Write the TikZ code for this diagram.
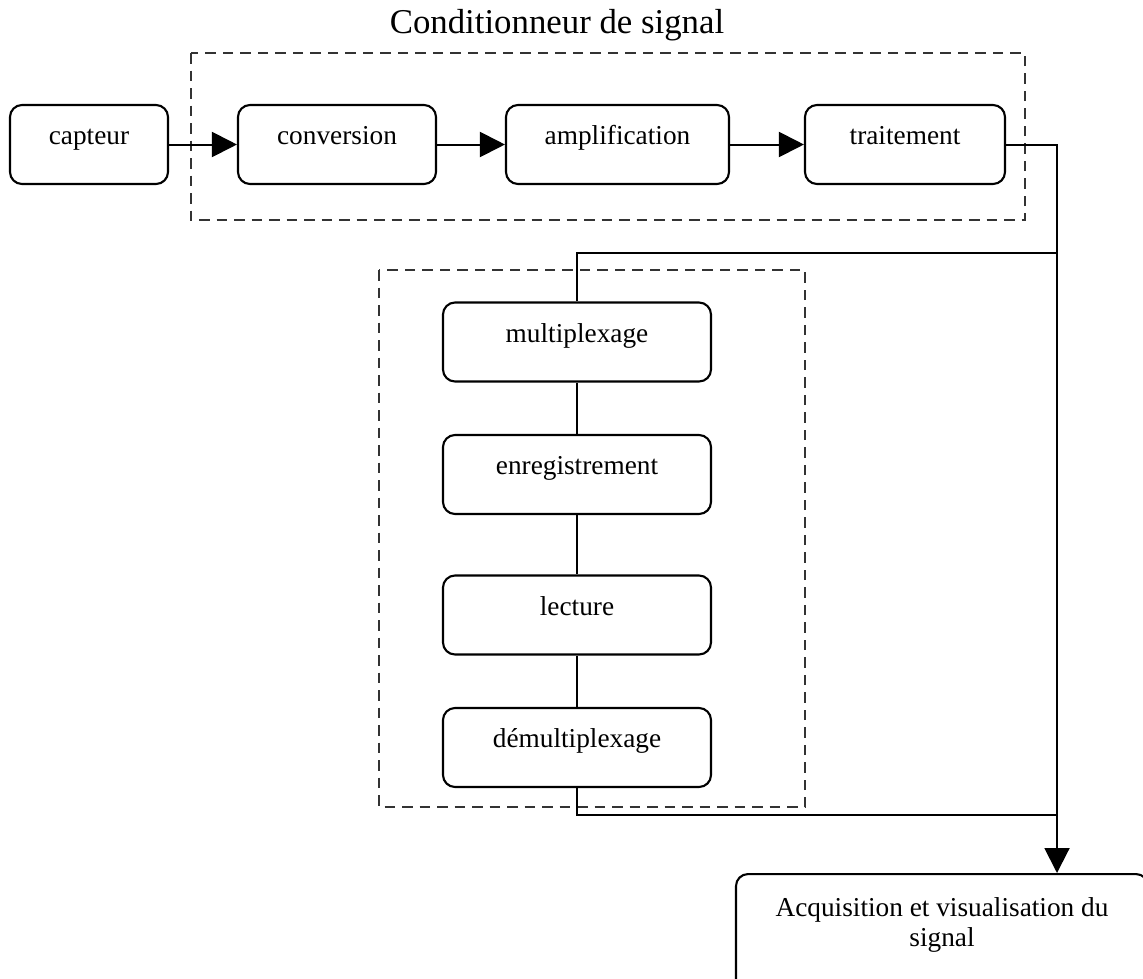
\documentclass[tikz,border=0pt]{standalone}
\usepackage{fontspec}
\setmainfont{Liberation Serif}
\usetikzlibrary{arrows.meta}
\begin{document}
\begin{tikzpicture}[x=1pt,y=-1pt,
  rbox/.style={draw, line width=2.1pt, rounded corners=12pt,
    font=\fontsize{27.3}{30}\selectfont},
  block/.style={rbox, minimum height=79pt, text height=8pt, text depth=8pt, inner sep=0pt},
  frame/.style={draw=black!80, line width=2.6pt, dash pattern=on 10.5pt off 7pt},
  link/.style={line width=2pt},
  tip/.style={-{Triangle[length=25pt,width=25pt]}}]
\useasboundingbox (0,0) rectangle (1143,978);
\clip (0,0) rectangle (1143,978);

% group frames
\draw[frame] (191,53) rectangle (1025,220);
\draw[frame] (379,270) rectangle (805,807);

\node[anchor=base, font=\fontsize{34.8}{38}\selectfont] (title) at (557,33) {Conditionneur de signal};

% signal conditioning chain
\node[block, minimum width=158pt] (capteur) at (89,144.5) {capteur};
\node[block, minimum width=198pt] (conv) at (337,144.5) {conversion};
\node[block, minimum width=223pt] (ampl) at (617.5,144.5) {amplification};
\node[block, minimum width=200pt] (trait) at (905,144.5) {traitement};

% recording chain
\node[block, minimum width=268pt] (mux) at (577,342) {multiplexage};
\node[block, minimum width=268pt] (enr) at (577,474.5) {enregistrement};
\node[block, minimum width=268pt] (lect) at (577,615) {lecture};
\node[block, minimum width=268pt] (demux) at (577,747.5) {démultiplexage};

% acquisition
\node[rbox, anchor=north, minimum width=412pt, align=center, inner xsep=0pt,
      inner ysep=23pt, text depth=90pt] (acq) at (942,873)
      {Acquisition et visualisation du\\signal};

\coordinate (bustop) at (1057,253);
\coordinate (busbot) at (1057,815);

\draw[link,tip] (capteur) -- (conv);
\draw[link,tip] (conv) -- (ampl);
\draw[link,tip] (ampl) -- (trait);
\draw[link,tip] (trait.east) -| (bustop |- acq.north);
\draw[link] (bustop) -| (mux.north);
\draw[link] (mux) -- (enr);
\draw[link] (enr) -- (lect);
\draw[link] (lect) -- (demux);
\draw[link] (demux.south) |- (busbot);
\end{tikzpicture}
\end{document}
